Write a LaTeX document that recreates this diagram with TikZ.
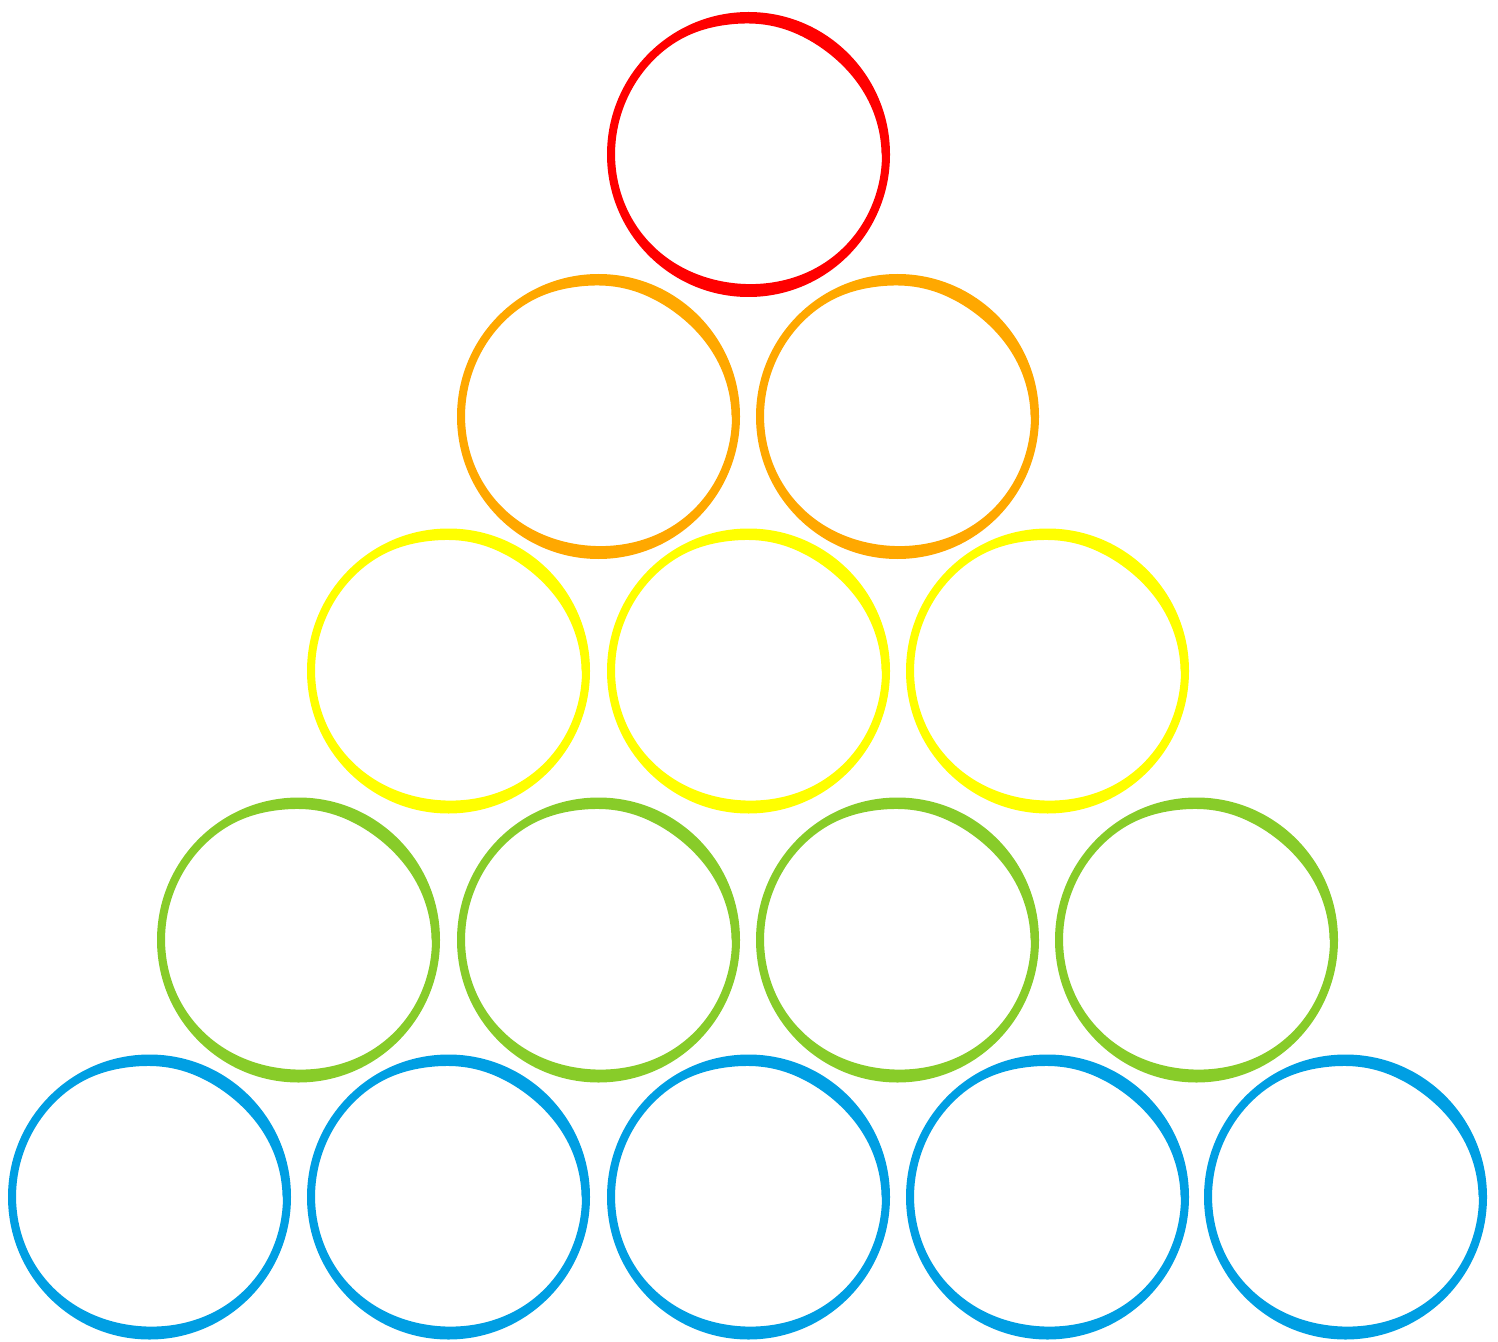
\documentclass[tikz,border=0pt]{standalone}
\definecolor{ringred}{HTML}{FF0000}
\definecolor{ringorange}{HTML}{FFA800}
\definecolor{ringyellow}{HTML}{FFFF00}
\definecolor{ringgreen}{HTML}{88CC29}
\definecolor{ringblue}{HTML}{009FE3}
\tikzset{
  declare function={
    ringw(\t)=8+5*exp(-((\t-305)/35)^2)+2*exp(-((\t-262)/18)^2)+5*exp(-((\t-95)/40)^2);
  },
  ring/.pic={
    \fill[even odd rule]
      (0,0) ellipse [x radius=141.5, y radius=142.5]
      plot[domain=0:360, samples=121, smooth cycle, variable=\t]
        ({(141.5-ringw(\t))*cos(\t)},
         {(142.5-ringw(\t))*sin(\t)});
  }
}
\begin{document}
\begin{tikzpicture}[x=0.5pt,y=-0.5pt]
\useasboundingbox (0,0) rectangle (1498,1342);
% row 1
\coordinate (r1) at (748.5,154.5);
\pic[ringred] at (r1) {ring};
% row 2
\foreach \x [count=\i] in {598.5,897.5}{
  \coordinate (o\i) at (\x,416.5);
  \pic[ringorange] at (o\i) {ring};
}
% row 3
\foreach \x [count=\i] in {448.5,748.5,1047.5}{
  \coordinate (y\i) at (\x,671);
  \pic[ringyellow] at (y\i) {ring};
}
% row 4
\foreach \x [count=\i] in {298.5,598.5,897.5,1196.5}{
  \coordinate (g\i) at (\x,940);
  \pic[ringgreen] at (g\i) {ring};
}
% row 5
\foreach \x [count=\i] in {149.5,448.5,748.5,1047.5,1345.5}{
  \coordinate (b\i) at (\x,1197);
  \pic[ringblue] at (b\i) {ring};
}
\end{tikzpicture}
\end{document}
